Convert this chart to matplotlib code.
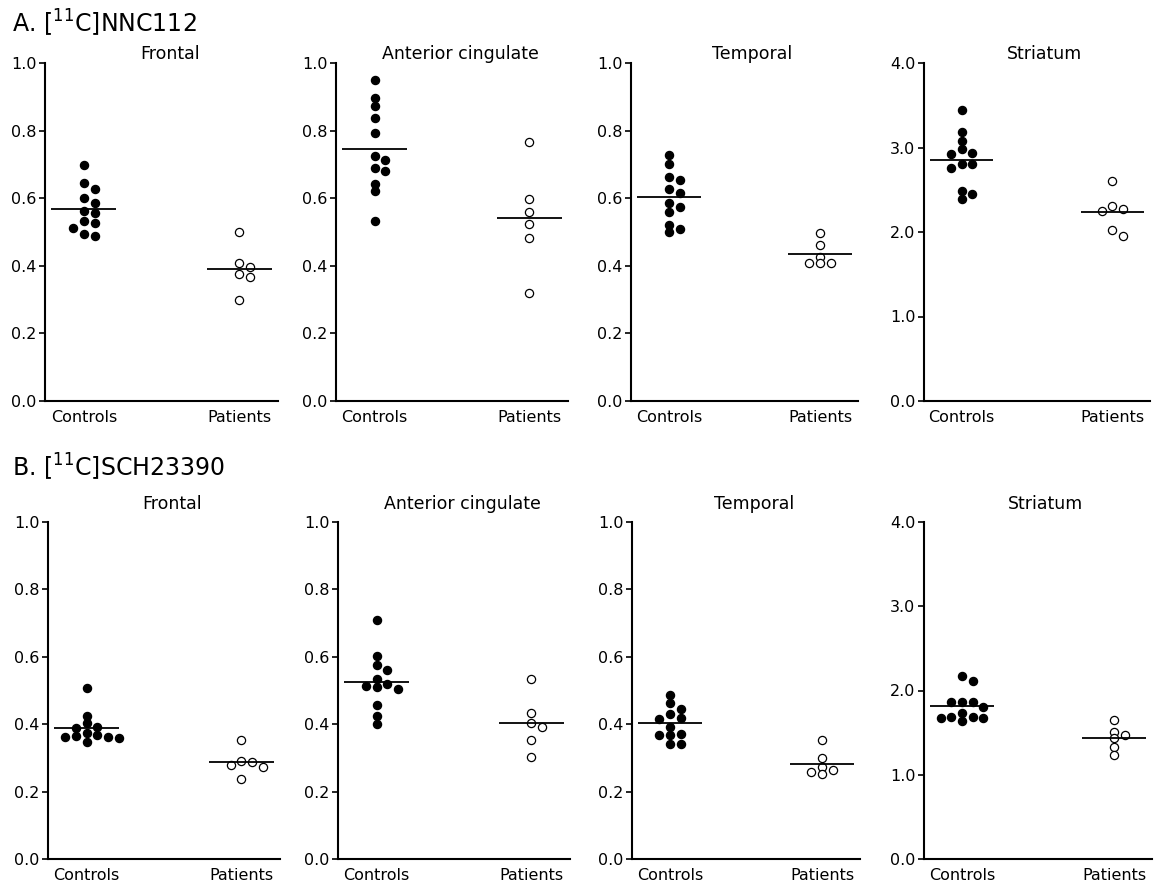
import numpy as np
import matplotlib
matplotlib.use("Agg")
import matplotlib.pyplot as plt
from matplotlib.ticker import FormatStrFormatter, MultipleLocator

# ---------------- data ----------------
groups = ["Controls", "Patients"]
regions = ["Frontal", "Anterior cingulate", "Temporal", "Striatum"]
tracer_labels = ["A. [$^{11}$C]NNC112", "B. [$^{11}$C]SCH23390"]

nnc_frontal_controls = [0.698, 0.645, 0.626, 0.600, 0.586, 0.562, 0.557, 0.532, 0.527, 0.513, 0.495, 0.488]
nnc_frontal_patients = [0.500, 0.409, 0.397, 0.377, 0.367, 0.298]
nnc_cingulate_controls = [0.949, 0.897, 0.874, 0.838, 0.793, 0.724, 0.712, 0.689, 0.679, 0.643, 0.621, 0.533]
nnc_cingulate_patients = [0.765, 0.598, 0.558, 0.524, 0.482, 0.321]
nnc_temporal_controls = [0.729, 0.700, 0.664, 0.654, 0.628, 0.615, 0.585, 0.575, 0.558, 0.521, 0.509, 0.499]
nnc_temporal_patients = [0.497, 0.463, 0.427, 0.407, 0.407, 0.407]
nnc_striatum_controls = [3.439, 3.178, 3.075, 2.984, 2.933, 2.925, 2.806, 2.806, 2.759, 2.490, 2.451, 2.395]
nnc_striatum_patients = [2.601, 2.312, 2.273, 2.253, 2.024, 1.957]

sch_frontal_controls = [0.507, 0.424, 0.404, 0.392, 0.388, 0.375, 0.367, 0.365, 0.363, 0.362, 0.360, 0.347]
sch_frontal_patients = [0.353, 0.291, 0.289, 0.278, 0.274, 0.236]
sch_cingulate_controls = [0.710, 0.602, 0.577, 0.560, 0.533, 0.519, 0.514, 0.509, 0.504, 0.457, 0.424, 0.401]
sch_cingulate_patients = [0.533, 0.434, 0.405, 0.392, 0.353, 0.303]
sch_temporal_controls = [0.488, 0.463, 0.444, 0.429, 0.417, 0.414, 0.391, 0.372, 0.367, 0.367, 0.342, 0.342]
sch_temporal_patients = [0.352, 0.300, 0.272, 0.263, 0.258, 0.252]
sch_striatum_controls = [2.175, 2.115, 1.869, 1.869, 1.869, 1.806, 1.738, 1.687, 1.687, 1.671, 1.671, 1.639]
sch_striatum_patients = [1.655, 1.512, 1.468, 1.433, 1.329, 1.234]

rows = [
    [(nnc_frontal_controls, nnc_frontal_patients),
     (nnc_cingulate_controls, nnc_cingulate_patients),
     (nnc_temporal_controls, nnc_temporal_patients),
     (nnc_striatum_controls, nnc_striatum_patients)],
    [(sch_frontal_controls, sch_frontal_patients),
     (sch_cingulate_controls, sch_cingulate_patients),
     (sch_temporal_controls, sch_temporal_patients),
     (sch_striatum_controls, sch_striatum_patients)],
]

# ---------------- layout ----------------
W, H = 1155, 883
fig = plt.figure(figsize=(W / 100, H / 100), dpi=100)
plt.rcParams['font.family'] = ['DejaVu Sans']

cols_px = [
    [(45, 278), (336, 568), (631, 858), (924, 1150)],
    [(48, 280), (338, 570), (632, 860), (924, 1152)],
]
rows_px = [(63, 401), (522, 859)]
title_pad = [3.0, 9.3]
label_baseline = [33, 477]

COL_STEP_PX = 10.7
OVERLAP_PX = 6.5


def swarm_x(vals, ax, xpos):
    bbox = ax.get_position()
    w_px = bbox.width * W
    h_px = bbox.height * H
    x0, x1 = ax.get_xlim()
    y0, y1 = ax.get_ylim()
    py = h_px / (y1 - y0)
    step = COL_STEP_PX * (x1 - x0) / w_px
    vals = np.asarray(vals, float)
    order = np.argsort(-vals, kind="stable")
    placed = {}
    offs = np.zeros(len(vals))
    for i in order:
        v = vals[i]
        for k in [0, 1, -1, 2, -2, 3, -3]:
            if all(abs(v - u) * py >= OVERLAP_PX for u in placed.get(k, [])):
                placed.setdefault(k, []).append(v)
                offs[i] = k * step
                break
    return xpos + offs


for r in range(2):
    top, bot = rows_px[r]
    for c in range(4):
        left, right = cols_px[r][c]
        ax = fig.add_axes([left / W, 1 - bot / H, (right - left) / W, (bot - top) / H])
        ymax = 4.0 if c == 3 else 1.0
        ax.set_xlim(-0.25, 1.25)
        ax.set_ylim(0, ymax)
        ctrl, pat = rows[r][c]
        for gi, (vals, filled) in enumerate([(ctrl, True), (pat, False)]):
            xs = swarm_x(vals, ax, gi)
            ax.plot(xs, vals, 'o', ms=5.9,
                    mfc='black' if filled else 'white', mec='black',
                    mew=0.9, ls='none', zorder=3, clip_on=False)
            m = np.mean(vals)
            ax.hlines(m, gi - 0.21, gi + 0.21, color='black', lw=1.3, zorder=4)
        ax.spines['top'].set_visible(False)
        ax.spines['right'].set_visible(False)
        ax.spines['left'].set_linewidth(1.5)
        ax.spines['bottom'].set_linewidth(1.5)
        ax.yaxis.set_major_locator(MultipleLocator(1.0 if c == 3 else 0.2))
        ax.yaxis.set_major_formatter(FormatStrFormatter('%.1f'))
        ax.tick_params(axis='y', direction='out', length=4, width=1.2,
                       pad=2.2, labelsize=11.5, colors='black')
        ax.set_xticks([0, 1])
        ax.set_xticklabels(groups)
        ax.tick_params(axis='x', length=0, pad=6.5, labelsize=11.5)
        ax.set_title(regions[c], fontsize=12.5, pad=title_pad[r], x=0.535)
    fig.text(12 / W, 1 - label_baseline[r] / H, tracer_labels[r],
             fontsize=17, va='baseline', ha='left')

fig.savefig("out.png", dpi=100)
